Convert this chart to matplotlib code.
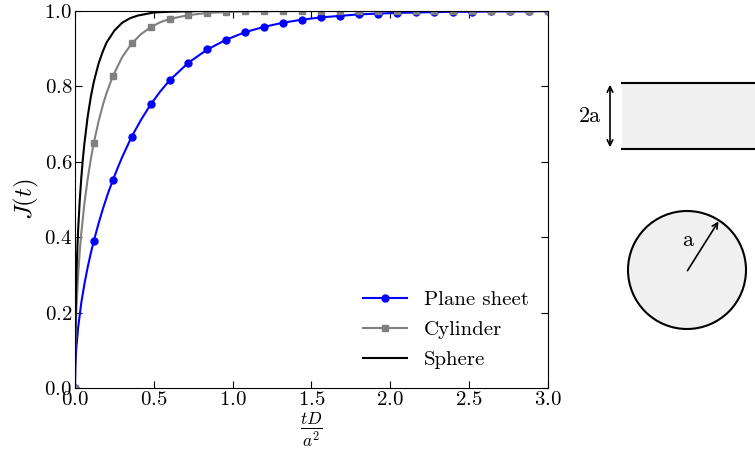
import matplotlib
matplotlib.use('Agg')
import matplotlib.pyplot as plt
from matplotlib.lines import Line2D
from matplotlib.patches import Circle, Rectangle

plt.rcParams['font.family'] = 'serif'
plt.rcParams['font.serif'] = ['cmr10', 'DejaVu Serif']
plt.rcParams['mathtext.fontset'] = 'cm'
plt.rcParams['axes.unicode_minus'] = False
plt.rcParams['axes.formatter.use_mathtext'] = True

# marker positions (tD/a^2)
t_mark = [0.0, 0.12, 0.24, 0.36, 0.48, 0.60, 0.72, 0.84, 0.96, 1.08, 1.20, 1.32, 1.44,
          1.56, 1.68, 1.80, 1.92, 2.04, 2.16, 2.28, 2.40, 2.52, 2.64, 2.76, 2.88, 3.00]
plane_mark = [0.0, 0.391, 0.551, 0.667, 0.752, 0.816, 0.863, 0.898, 0.924, 0.944, 0.958,
              0.969, 0.977, 0.983, 0.987, 0.991, 0.993, 0.995, 0.996, 0.997, 0.998, 0.998,
              0.999, 0.999, 0.999, 1.0]
cyl_mark = [0.0, 0.651, 0.827, 0.914, 0.957, 0.979, 0.989, 0.995, 0.997, 0.999, 0.999,
            1.0, 1.0, 1.0, 1.0, 1.0, 1.0, 1.0, 1.0, 1.0, 1.0, 1.0, 1.0, 1.0, 1.0, 1.0]

# extra readings for the smooth lines near t = 0
t_plane = [0.0, 0.0025, 0.005, 0.01, 0.02, 0.04, 0.06, 0.08, 0.10, 0.12, 0.15, 0.18, 0.21,
           0.24, 0.27, 0.30, 0.36, 0.42, 0.48, 0.54, 0.60, 0.72, 0.84, 0.96, 1.08, 1.20,
           1.32, 1.44, 1.56, 1.68, 1.80, 1.92, 2.04, 2.16, 2.28, 2.40, 2.52, 2.64, 2.76,
           2.88, 3.00]
plane_line = [0.0, 0.056, 0.080, 0.113, 0.160, 0.226, 0.276, 0.319, 0.357, 0.391, 0.437,
              0.479, 0.517, 0.551, 0.583, 0.613, 0.667, 0.712, 0.752, 0.786, 0.816, 0.863,
              0.898, 0.924, 0.944, 0.958, 0.969, 0.977, 0.983, 0.987, 0.991, 0.993, 0.995,
              0.996, 0.997, 0.998, 0.998, 0.999, 0.999, 0.999, 1.0]

t_cyl = [0.0, 0.001, 0.0025, 0.005, 0.01, 0.02, 0.03, 0.04, 0.06, 0.08, 0.10, 0.12, 0.15,
         0.18, 0.20, 0.24, 0.30, 0.36, 0.42, 0.48, 0.54, 0.60, 0.72, 0.84, 0.96, 1.08,
         1.20, 1.32, 3.00]
cyl_line = [0.0, 0.071, 0.113, 0.155, 0.216, 0.299, 0.361, 0.410, 0.490, 0.553, 0.606,
            0.651, 0.708, 0.755, 0.782, 0.827, 0.878, 0.914, 0.939, 0.957, 0.970, 0.979,
            0.989, 0.995, 0.997, 0.999, 0.999, 1.0, 1.0]

t_sph = [0.0, 0.001, 0.0025, 0.005, 0.01, 0.015, 0.02, 0.03, 0.04, 0.05, 0.06, 0.08, 0.10,
         0.12, 0.15, 0.175, 0.20, 0.25, 0.30, 0.35, 0.40, 0.50, 0.60, 0.80, 1.00, 3.00]
sph_line = [0.0, 0.104, 0.162, 0.224, 0.309, 0.370, 0.419, 0.496, 0.557, 0.607, 0.649,
            0.718, 0.771, 0.813, 0.861, 0.891, 0.916, 0.948, 0.969, 0.981, 0.988, 0.996,
            0.998, 1.0, 1.0, 1.0]

fig = plt.figure(figsize=(7.55, 4.54), dpi=100)
ax = fig.add_axes([0.0993, 0.1454, 0.6265, 0.8304])

ax.plot(t_plane, plane_line, '-', color='blue', lw=1.5)
ax.plot(t_mark, plane_mark, 'o', color='blue', ms=5)
ax.plot(t_cyl, cyl_line, '-', color='gray', lw=1.5)
ax.plot(t_mark, cyl_mark, 's', color='gray', ms=4.5)
ax.plot(t_sph, sph_line, '-', color='black', lw=1.5)

ax.set_xlim(0, 3.0)
ax.set_ylim(0, 1.0)
ax.set_xticks([0.0, 0.5, 1.0, 1.5, 2.0, 2.5, 3.0])
ax.set_yticks([0.0, 0.2, 0.4, 0.6, 0.8, 1.0])
ax.tick_params(direction='in', top=True, right=True, length=5, labelsize=15, pad=2)
ax.set_xlabel(r'$\frac{tD}{a^2}$', fontsize=18, labelpad=1)
ax.set_ylabel(r'$J(t)$', fontsize=18, labelpad=2)

handles = [Line2D([], [], color='blue', lw=1.5, marker='o', ms=5),
           Line2D([], [], color='gray', lw=1.5, marker='s', ms=4.5),
           Line2D([], [], color='black', lw=1.5)]
ax.legend(handles, ['Plane sheet', 'Cylinder', 'Sphere'], loc='lower right',
          bbox_to_anchor=(1.0, 0.0), frameon=False, fontsize=15, handlelength=2.1,
          handletextpad=0.85, labelspacing=0.55)

# sketches of the geometries, drawn in pixel coordinates
sk = fig.add_axes([0, 0, 1, 1], zorder=-1)
sk.set_xlim(0, 755)
sk.set_ylim(454, 0)
sk.axis('off')
sk.add_patch(Rectangle((622, 83), 140, 66, facecolor='#f0f0f0', edgecolor='none'))
sk.plot([622, 755], [83, 83], color='black', lw=1.5)
sk.plot([622, 755], [149, 149], color='black', lw=1.5)
sk.annotate('', xy=(610, 82), xytext=(610, 150),
            arrowprops=dict(arrowstyle='<->', color='black', lw=1.2))
sk.text(590, 116, '2a', fontsize=16, ha='center', va='center')
sk.add_patch(Circle((687, 270), 59, facecolor='#f0f0f0', edgecolor='black', lw=1.5))
sk.annotate('', xy=(720, 219), xytext=(686, 273),
            arrowprops=dict(arrowstyle='->', color='black', lw=1.2))
sk.text(688, 240, 'a', fontsize=16, ha='center', va='center')

fig.savefig('out.png', dpi=100)
